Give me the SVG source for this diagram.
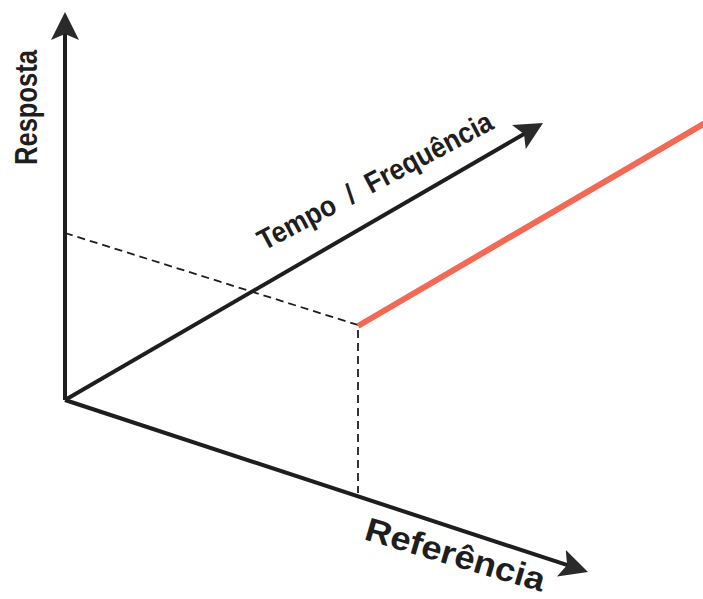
<svg xmlns="http://www.w3.org/2000/svg" width="703" height="599" viewBox="0 0 703 599">
<style>
.axis{stroke:#1e1e1e;stroke-width:4;fill:none;marker-end:url(#ah)}
.dash{stroke:#1e1e1e;stroke-width:1.8;fill:none;stroke-dasharray:8,5}
.lbl{font-family:"Liberation Sans",Arial,sans-serif;font-weight:bold;fill:#1e1e1e}
</style>
<defs>
<marker id="ah" markerUnits="userSpaceOnUse" viewBox="0 0 28 28" markerWidth="28" markerHeight="28" refX="8" refY="14" orient="auto">
<path d="M0,0 L28,14 L0,28 L6,14 z" fill="#2a2a2a"/>
</marker>
</defs>
<rect width="703" height="599" fill="#ffffff"/>
<g id="connectors">
<line class="axis" x1="65" y1="400" x2="65" y2="32"/>
<line class="axis" x1="65" y1="400" x2="525.7" y2="133"/>
<line class="axis" x1="65" y1="400" x2="569" y2="565.7"/>
<polyline class="dash" points="65,233 358,325 358,493"/>
<line x1="358" y1="326" x2="705" y2="123" stroke="#f26a55" stroke-width="6"/>
</g>
<g id="resposta"><text class="lbl" font-size="32" transform="translate(37,165) rotate(-90)" textLength="115" lengthAdjust="spacingAndGlyphs">Resposta</text></g>
<g id="tempo"><text class="lbl" font-size="29" transform="translate(264,251) rotate(-28)" xml:space="preserve" textLength="262" lengthAdjust="spacingAndGlyphs">Tempo  /  Frequência</text></g>
<g id="referencia"><text class="lbl" font-size="33" transform="translate(363,539) rotate(16.5)" textLength="186" lengthAdjust="spacingAndGlyphs">Referência</text></g>
</svg>
